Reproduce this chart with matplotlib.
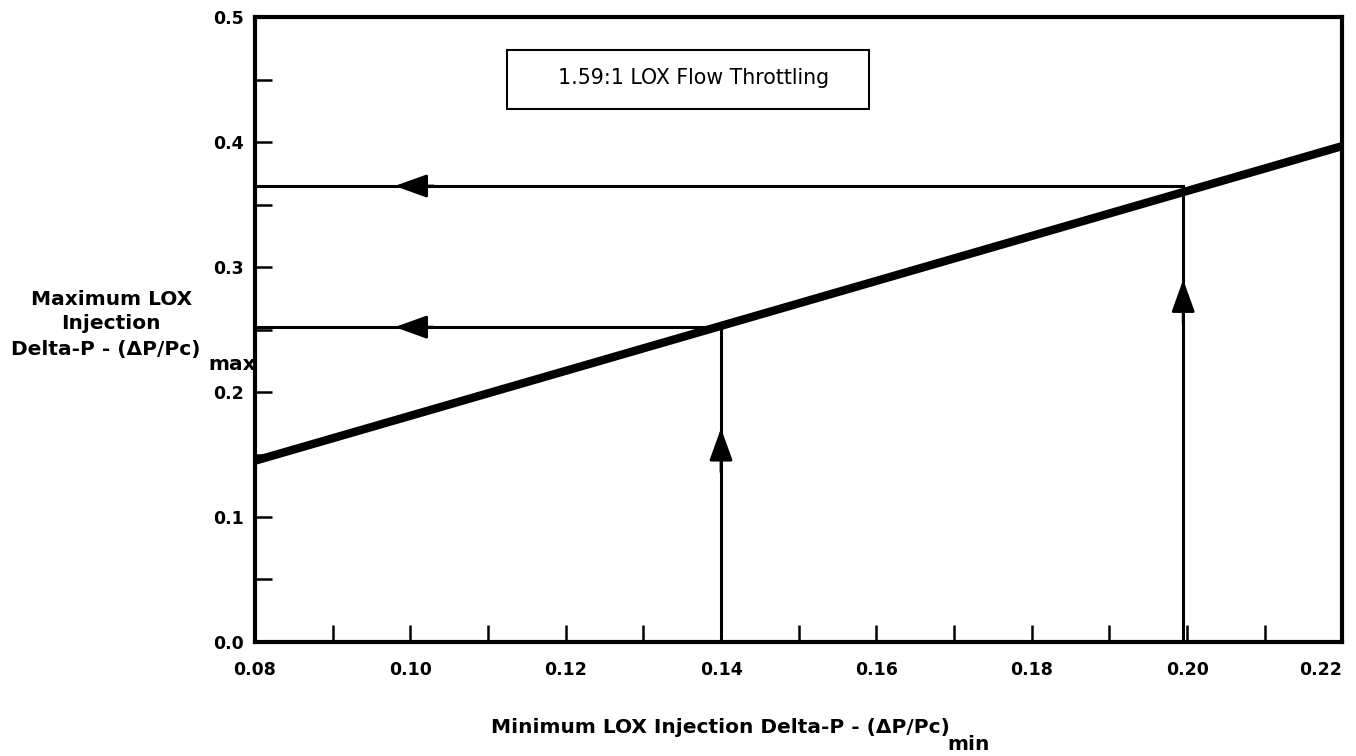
import matplotlib
matplotlib.use('Agg')
import matplotlib.pyplot as plt
from matplotlib.patches import Rectangle
from matplotlib.ticker import MultipleLocator

plt.rcParams['font.family'] = ['DejaVu Sans']
plt.rcParams['font.weight'] = 'bold'

# 数据
line_x = [0.08, 0.22]
line_y = [0.145, 0.397]

# 两个工作点 (最小压降 -> 最大压降)
point_x = [0.14, 0.1995]
point_y = [0.252, 0.365]

# 箭头尖端位置
h_arrow_tip_x = [0.098, 0.098]
v_arrow_tip_y = [0.171, 0.29]

x_ticks = [0.08, 0.10, 0.12, 0.14, 0.16, 0.18, 0.20, 0.22]
y_ticks = [0.0, 0.1, 0.2, 0.3, 0.4, 0.5]

fig = plt.figure(figsize=(13.56, 7.56), dpi=100)
ax = fig.add_axes([0.188, 0.151, 0.802, 0.826])

ax.plot(line_x, line_y, color='black', lw=6, solid_capstyle='butt', zorder=4)

arrow_props = dict(arrowstyle='-|>,head_length=2.0,head_width=0.72',
                   color='black', lw=2, shrinkA=0, shrinkB=0)

for px, py, tx, ty in zip(point_x, point_y, h_arrow_tip_x, v_arrow_tip_y):
    # 水平线
    ax.plot([0.08, px], [py, py], color='black', lw=2.2, zorder=3)
    ax.annotate('', xy=(tx, py), xytext=(tx + 0.005, py), arrowprops=arrow_props)
    # 竖线
    ax.plot([px, px], [0, py], color='black', lw=2.2, zorder=3)
    ax.annotate('', xy=(px, ty), xytext=(px, ty - 0.035), arrowprops=arrow_props)

# 说明框
ax.add_patch(Rectangle((0.1125, 0.427), 0.0465, 0.047, fill=False,
                       edgecolor='black', lw=1.5, zorder=5))
ax.text(0.1365, 0.4465, '1.59:1 LOX Flow Throttling', ha='center', va='baseline',
        fontsize=14.8, fontweight='normal', zorder=6)

ax.set_xlim(0.08, 0.22)
ax.set_ylim(0.0, 0.5)
ax.set_xticks(x_ticks)
ax.set_yticks(y_ticks)
ax.set_xticklabels(['%.2f' % v for v in x_ticks])
ax.set_yticklabels(['%.1f' % v for v in y_ticks])
ax.get_xticklabels()[-1].set_ha('right')
ax.xaxis.set_minor_locator(MultipleLocator(0.01))
ax.yaxis.set_minor_locator(MultipleLocator(0.05))
ax.tick_params(which='both', direction='in', length=12, width=1.8,
               labelsize=12.5)
ax.tick_params(axis='x', which='both', top=False, pad=14)
ax.tick_params(axis='y', which='both', right=False, pad=8)
for s in ax.spines.values():
    s.set_linewidth(3)

# y 轴标题 (带下标)
fig.text(0.082, 1 - 305 / 756, 'Maximum LOX', ha='center', va='baseline', fontsize=14.5)
fig.text(0.082, 1 - 329 / 756, 'Injection', ha='center', va='baseline', fontsize=14.5)
fig.text(0.078, 1 - 355 / 756, 'Delta-P - (\u0394P/Pc)', ha='center', va='baseline', fontsize=14.5)
fig.text(0.1535, 1 - 370 / 756, 'max', ha='left', va='baseline', fontsize=14.5)

# x 轴标题 (带下标)
fig.text(0.5315, 1 - 733 / 756, 'Minimum LOX Injection Delta-P - (\u0394P/Pc)',
         ha='center', va='baseline', fontsize=14.5)
fig.text(0.6985, 1 - 750 / 756, 'min', ha='left', va='baseline', fontsize=14.5)

fig.savefig('out.png', dpi=100)
